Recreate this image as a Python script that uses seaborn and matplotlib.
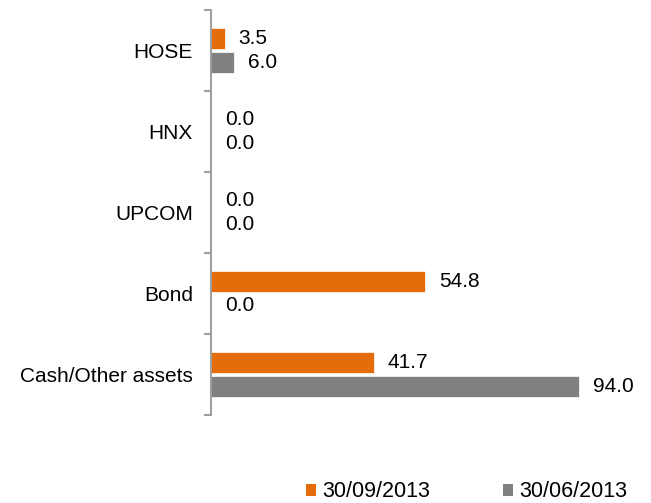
import matplotlib
matplotlib.use("Agg")
import matplotlib.pyplot as plt
import seaborn as sns
import pandas as pd
from matplotlib.patches import Patch
from matplotlib.ticker import FixedLocator

categories = ["HOSE", "HNX", "UPCOM", "Bond", "Cash/Other assets"]
series_names = ["30/09/2013", "30/06/2013"]
values_sep = [3.5, 0.0, 0.0, 54.8, 41.7]
values_jun = [6.0, 0.0, 0.0, 0.0, 94.0]
colors = ["#E46C0A", "#808080"]

df = pd.DataFrame({
    "category": categories * 2,
    "series": [series_names[0]] * len(categories) + [series_names[1]] * len(categories),
    "value": values_sep + values_jun,
})

sns.set_style("white")
plt.rcParams["font.family"] = ["Liberation Sans", "DejaVu Sans"]

FS = 15

fig = plt.figure(figsize=(6.51, 5.03), dpi=100)
ax = fig.add_axes([0.324, 0.175, 0.601, 0.805])

sns.barplot(data=df, y="category", x="value", hue="series", order=categories,
            hue_order=series_names, palette=colors, saturation=1, orient="h",
            width=0.58, gap=0.1, ax=ax, legend=False, edgecolor="white", linewidth=0.5)

for cont in ax.containers:
    ax.bar_label(cont, fmt="%.1f", padding=10, fontsize=FS, color="black")

ax.set_xlim(0, 100)
ax.set_ylim(4.5, -0.5)
ax.set_xlabel("")
ax.set_ylabel("")
ax.set_xticks([])
for s in ["top", "right", "bottom"]:
    ax.spines[s].set_visible(False)
ax.spines["left"].set_color("#A0A0A0")
ax.spines["left"].set_linewidth(1.5)
ax.tick_params(axis="y", which="major", length=0, pad=13, labelsize=FS, labelcolor="black")
ax.yaxis.set_minor_locator(FixedLocator([i - 0.5 for i in range(len(categories) + 1)]))
ax.tick_params(axis="y", which="minor", length=5, width=1.5, color="#A0A0A0", left=True)

handles = [Patch(facecolor=c, edgecolor="none") for c in colors]
fig.legend(handles, series_names, loc="center", bbox_to_anchor=(0.717, 0.022),
           ncol=2, frameon=False, fontsize=15.5, handlelength=0.45, handleheight=0.45,
           handletextpad=0.3, columnspacing=3.4, labelcolor="black")

fig.savefig("out.png", dpi=100)
